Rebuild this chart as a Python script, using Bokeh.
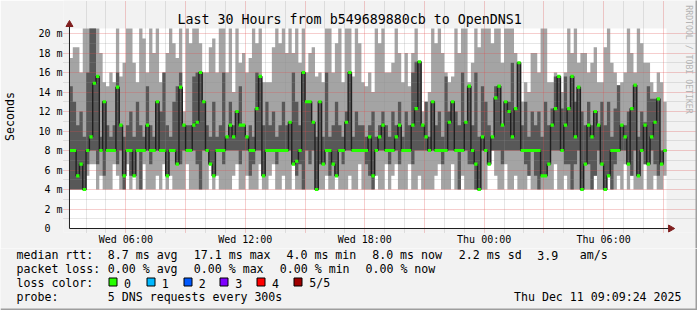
import numpy as np
from bokeh.plotting import figure
from bokeh.layouts import column
from bokeh.models import FixedTicker, Grid, Range1d
from bokeh.core.properties import value
from bokeh.embed import file_html
from bokeh.resources import INLINE

# ---------------- data ----------------
step_h = 10.0 / 60.0          # 10 minute columns
start_h = 3.0 + 10.0 / 60.0   # Wed 03:10 (hours since Wed 00:00)
span_h = 30.0
y_top = 20.51

median = [
    8, 8, 5.4, 6.6, 4.0, 8,
    9.4, 14.9, 15.6, 8, 13.0, 8,
    8, 8, 14.5, 10.6, 5.4, 8,
    8, 5.4, 8, 8, 8, 10.6,
    8, 8, 13.0, 8, 8, 5.4,
    8, 8, 6.6, 14.5, 10.6, 8,
    8, 10.6, 10.9, 16.0, 13.0, 8,
    6.6, 5.4, 8, 8, 8, 9.4,
    10.6, 9.4, 12.0, 10.6, 10.6, 9.4,
    8, 8, 12.3, 15.6, 5.4, 8,
    8, 8, 8, 8, 8, 8,
    10.9, 6.6, 6.9, 8, 16.0, 13.0,
    13.0, 10.9, 4.0, 13.0, 6.6, 8,
    8, 6.6, 5.4, 8, 8, 10.9,
    16.0, 8, 8, 8, 8, 8,
    9.4, 5.4, 8, 9.4, 10.6, 8,
    8, 8, 9.4, 10.6, 8, 8,
    8, 10.6, 12.3, 17.1, 10.6, 9.4,
    8, 13.0, 8, 8, 8, 8,
    10.9, 13.0, 8, 8, 8, 10.9,
    14.6, 8, 6.6, 4.0, 9.4, 8,
    6.6, 9.4, 13.4, 14.6, 10.6, 13.0,
    12.0, 9.4, 12.3, 17.0, 8, 8,
    8, 8, 8, 8, 5.4, 5.4,
    6.6, 10.6, 12.3, 15.6, 8, 10.6,
    12.3, 15.6, 9.4, 14.5, 4.0, 6.6,
    10.6, 9.4, 12.0, 10.6, 6.6, 4.0,
    5.4, 8, 8, 8, 10.6, 9.4,
    6.6, 12.3, 14.7, 5.4, 8, 10.6,
    6.6, 9.4, 10.9, 13.3, 6.6, 8.0,
]

ping_min = [
    4.0, 4.0, 4.0, 4.0, 4.0, 5.4,
    6.6, 6.6, 4.0, 5.4, 4.0, 4.0,
    4.0, 6.6, 5.4, 4.0, 4.0, 6.6,
    4.0, 5.4, 4.0, 4.0, 6.6, 4.0,
    4.0, 4.0, 5.4, 4.0, 6.6, 4.0,
    5.4, 4.0, 4.0, 4.0, 4.0, 6.6,
    4.0, 4.0, 4.0, 5.4, 4.0, 4.0,
    6.6, 4.0, 5.4, 4.0, 4.0, 4.0,
    4.0, 5.4, 6.6, 4.0, 4.0, 5.4,
    4.0, 4.0, 4.0, 6.6, 4.0, 4.0,
    5.4, 6.6, 4.0, 4.0, 5.4, 4.0,
    4.0, 6.6, 4.0, 4.0, 4.0, 4.0,
    4.0, 4.0, 6.6, 4.0, 4.0, 5.4,
    4.0, 4.0, 5.4, 4.0, 4.0, 4.0,
    5.4, 4.0, 4.0, 6.6, 4.0, 4.0,
    4.0, 4.0, 5.4, 4.0, 4.0, 6.6,
    4.0, 5.4, 6.6, 4.0, 4.0, 4.0,
    6.6, 4.0, 4.0, 5.4, 4.0, 4.0,
    4.0, 4.0, 5.4, 6.6, 4.0, 4.0,
    4.0, 6.6, 4.0, 4.0, 5.4, 4.0,
    4.0, 4.0, 4.0, 5.4, 4.0, 4.0,
    8.0, 8.0, 5.4, 4.0, 4.0, 6.6,
    4.0, 4.0, 5.4, 4.0, 4.0, 4.0,
    6.6, 4.0, 4.0, 5.4, 4.0, 4.0,
    4.0, 4.0, 6.6, 4.0, 4.0, 5.4,
    4.0, 4.0, 4.0, 4.0, 6.6, 4.0,
    4.0, 4.0, 5.4, 4.0, 4.0, 4.0,
    6.6, 4.0, 4.0, 5.4, 4.0, 6.6,
    4.0, 5.4, 4.0, 4.0, 4.0, 6.6,
    4.0, 4.0, 5.4, 4.0, 4.0, 5.4,
]

ping_low = [
    4.0, 4.0, 4.0, 4.0, 4.0, 6.6,
    8.0, 8.0, 6.6, 8.0, 5.4, 8.0,
    8.0, 8.0, 6.6, 8.0, 4.0, 8.0,
    5.4, 8.0, 8.0, 4.0, 8.0, 8.0,
    6.6, 8.0, 8.0, 8.0, 8.0, 5.4,
    8.0, 8.0, 6.6, 6.6, 8.0, 8.0,
    8.0, 8.0, 6.6, 4.0, 8.0, 8.0,
    8.0, 5.4, 8.0, 8.0, 6.6, 8.0,
    8.0, 8.0, 8.0, 6.6, 8.0, 8.0,
    5.4, 6.6, 8.0, 8.0, 8.0, 8.0,
    8.0, 8.0, 6.6, 8.0, 8.0, 8.0,
    8.0, 8.0, 5.4, 6.6, 4.0, 8.0,
    6.6, 8.0, 8.0, 6.6, 8.0, 8.0,
    5.4, 8.0, 8.0, 8.0, 6.6, 8.0,
    8.0, 8.0, 8.0, 8.0, 8.0, 6.6,
    5.4, 4.0, 8.0, 8.0, 8.0, 8.0,
    6.6, 8.0, 8.0, 6.6, 8.0, 8.0,
    8.0, 6.6, 8.0, 8.0, 8.0, 8.0,
    8.0, 8.0, 8.0, 8.0, 6.6, 8.0,
    8.0, 8.0, 8.0, 4.0, 8.0, 8.0,
    6.6, 6.6, 4.0, 8.0, 8.0, 8.0,
    8.0, 8.0, 8.0, 8.0, 6.6, 8.0,
    8.0, 8.0, 8.0, 8.0, 8.0, 6.6,
    5.4, 8.0, 5.4, 4.0, 8.0, 5.4,
    6.6, 8.0, 8.0, 8.0, 8.0, 6.6,
    6.6, 4.0, 6.6, 8.0, 8.0, 8.0,
    6.6, 4.0, 5.4, 8.0, 8.0, 6.6,
    8.0, 4.0, 6.6, 8.0, 8.0, 8.0,
    6.6, 5.4, 8.0, 6.6, 8.0, 6.6,
    8.0, 8.0, 6.6, 5.4, 6.6, 8.0,
]

ping_high = [
    14.6, 13.0, 10.6, 12.0, 9.4, 16.0,
    21.0, 21.0, 13.0, 9.4, 12.0, 10.6,
    9.4, 10.6, 16.0, 10.6, 9.4, 10.6,
    12.0, 9.4, 13.0, 10.6, 9.4, 14.6,
    10.6, 9.4, 9.4, 12.0, 16.0, 10.6,
    9.4, 13.0, 14.6, 16.0, 9.4, 10.6,
    10.6, 15.6, 16.0, 9.4, 12.0, 10.6,
    9.4, 13.0, 9.4, 10.6, 16.0, 9.4,
    13.0, 10.6, 12.0, 14.6, 10.6, 9.4,
    10.6, 9.4, 16.0, 15.6, 10.6, 13.0,
    10.6, 12.0, 9.4, 10.6, 13.0, 10.6,
    9.4, 16.0, 13.0, 10.6, 13.0, 10.6,
    12.0, 10.6, 9.4, 13.0, 9.4, 16.0,
    9.4, 10.6, 13.0, 10.6, 9.4, 12.0,
    13.0, 9.4, 12.0, 10.6, 10.6, 9.4,
    10.6, 12.0, 9.4, 10.6, 12.0, 10.6,
    9.4, 12.0, 10.6, 13.0, 9.4, 12.0,
    10.6, 16.0, 17.1, 12.0, 9.4, 13.0,
    9.4, 13.0, 10.6, 12.0, 9.4, 15.6,
    12.0, 9.4, 12.0, 10.6, 16.0, 10.6,
    14.6, 10.6, 16.0, 9.4, 14.6, 13.0,
    10.6, 9.4, 14.6, 14.6, 10.6, 13.0,
    13.0, 17.0, 10.6, 9.4, 10.6, 13.0,
    9.4, 12.0, 10.6, 12.0, 9.4, 13.0,
    10.6, 12.3, 15.6, 9.4, 12.3, 15.6,
    10.6, 14.6, 13.0, 9.4, 12.0, 10.6,
    13.0, 10.6, 12.0, 9.4, 13.0, 10.6,
    13.0, 9.4, 12.3, 14.7, 9.4, 10.6,
    12.0, 9.4, 10.6, 9.4, 12.0, 10.9,
    14.6, 13.3, 13.3, 10.6, 8.0, 8.0,
]

ping_max = [
    17.5, 18.6, 18.6, 16.0, 21.0, 21.0,
    21.0, 21.0, 21.0, 18.0, 15.0, 14.6,
    16.0, 15.0, 21.0, 15.6, 17.0, 21.0,
    21.0, 17.0, 15.0, 21.0, 19.5, 16.0,
    21.0, 18.0, 21.0, 15.0, 16.0, 18.0,
    21.0, 19.0, 17.5, 21.0, 12.0, 21.0,
    19.0, 21.0, 21.0, 19.0, 16.0, 16.0,
    18.6, 19.5, 16.0, 21.0, 21.0, 16.0,
    21.0, 14.0, 21.0, 17.0, 18.0, 16.0,
    17.5, 21.0, 19.0, 21.0, 15.0, 15.0,
    15.0, 18.6, 21.0, 19.0, 21.0, 18.0,
    21.0, 18.0, 21.0, 17.0, 21.0, 16.0,
    18.0, 18.6, 15.6, 16.0, 15.0, 21.0,
    21.0, 16.0, 19.0, 21.0, 15.0, 21.0,
    21.0, 15.6, 21.0, 19.0, 15.0, 14.6,
    16.0, 14.0, 21.0, 19.0, 21.0, 16.0,
    16.0, 17.0, 21.0, 18.0, 15.0, 18.0,
    14.6, 18.0, 21.0, 14.0, 12.0, 13.0,
    14.0, 21.0, 19.0, 21.0, 18.0, 16.0,
    15.0, 15.6, 21.0, 18.0, 21.0, 21.0,
    15.0, 17.0, 21.0, 18.6, 21.0, 21.0,
    21.0, 19.0, 21.0, 21.0, 17.0, 21.0,
    21.0, 21.0, 18.0, 16.0, 13.0, 15.0,
    14.0, 18.0, 18.0, 16.0, 21.0, 21.0,
    15.0, 15.0, 16.0, 14.0, 14.0, 16.0,
    21.0, 18.0, 21.0, 17.0, 18.0, 18.0,
    16.0, 17.0, 18.6, 15.0, 15.0, 18.6,
    21.0, 17.0, 16.0, 14.0, 15.0, 16.0,
    21.0, 18.0, 16.0, 21.0, 19.0, 17.0,
    17.0, 15.0, 14.0, 16.0, 15.0, 13.0,
]

x_ticks = [6, 12, 18, 24, 30]
x_tick_labels = ["Wed 06:00", "Wed 12:00", "Wed 18:00", "Thu 00:00", "Thu 06:00"]
y_ticks = [0, 2, 4, 6, 8, 10, 12, 14, 16, 18, 20]
y_tick_labels = ["0\u00a0\u00a0", "2 m", "4 m", "6 m", "8 m", "10 m", "12 m",
                 "14 m", "16 m", "18 m", "20 m"]

title_text = "Last 30 Hours from b549689880cb to OpenDNS1"
y_label = "Seconds"
watermark = "RRDTOOL / TOBI OETIKER"
rtt_items = ["median rtt:", "8.7 ms avg", "17.1 ms max", "4.0 ms min",
             "8.0 ms now", "2.2 ms sd", "3.9", "am/s"]
loss_items = ["packet loss:", "0.00 % avg", "0.00 % max", "0.00 % min", "0.00 % now"]
loss_title = "loss color:"
loss_names = ["0", "1", "2", "3", "4", "5/5"]
loss_colors = ["#26ff00", "#00b8ff", "#0059ff", "#7e00ff", "#ff0000", "#a00000"]
probe_items = ["probe:", "5 DNS requests every 300s"]
stamp_text = "Thu Dec 11 09:09:24 2025"

# ---------------- layout constants ----------------
FONT = "DejaVu Sans Mono"
W = 697
SPLIT = 248            # canvas row where the legend strip starts
PX_H = 20.0            # pixels per hour
PX_M = 9.75            # pixels per millisecond
X0_PX, Y0_PX = 66, 228 # canvas pixel of (start, 0)


def X(px):
    return start_h + (px - X0_PX) / PX_H


def Y(py):
    return (Y0_PX - py) / PX_M


# ---------------- derived arrays ----------------
n = len(median)
t = start_h + np.arange(n + 1) * step_h
med = np.array(median + [median[-1]], dtype=float)
lo1 = np.array(ping_min + [ping_min[-1]], dtype=float)
lo2 = np.array(ping_low + [ping_low[-1]], dtype=float)
hi2 = np.array(ping_high + [ping_high[-1]], dtype=float)
hi1 = np.array(ping_max + [ping_max[-1]], dtype=float)
lo2 = np.minimum(lo2, med)
lo1 = np.minimum(lo1, lo2)
hi2 = np.minimum(np.maximum(hi2, med), y_top)
hi1 = np.minimum(np.maximum(hi1, hi2), y_top)

# ---------------- main graph ----------------
p = figure(width=W, height=SPLIT,
           x_range=Range1d(X(60), X(W)), y_range=Range1d(Y(232), Y(0)),
           output_backend="svg", toolbar_location=None,
           min_border_left=60, min_border_right=0, min_border_top=0,
           min_border_bottom=SPLIT - 232,
           background_fill_color="#f2f2f2", border_fill_color="#f2f2f2",
           outline_line_color=None)
p.title.visible = False
p.grid.visible = False

# white canvas
p.quad(left=[start_h], right=[start_h + span_h], bottom=[0], top=[y_top],
       fill_color="white", line_color=None, level="image")

# smoke
p.varea_step(x=t, y1=lo1, y2=hi1, step_mode="after", fill_color="#a4a4a4")
p.varea_step(x=t, y1=lo2, y2=hi2, step_mode="after", fill_color="#585858")

# grids, drawn over the smoke and limited to the canvas
minor_y = [v for v in range(1, 21) if v % 2 == 1]
major_y = [v for v in range(2, 21, 2)]
minor_x = [h for h in range(4, 34) if h % 3 != 0]
major_x = [h for h in range(6, 34, 3)]
for dim, ticks, col, alpha in [(1, minor_y, "#8f8f8f", 0.45), (0, minor_x, "#8f8f8f", 0.45),
                               (1, major_y, "#de4f4f", 0.55), (0, major_x, "#de4f4f", 0.55)]:
    bounds = (start_h, start_h + span_h) if dim == 1 else (0, y_top)
    g = Grid(dimension=dim, ticker=FixedTicker(ticks=ticks), bounds=bounds,
             grid_line_color=col, grid_line_alpha=alpha, grid_line_dash="1 1",
             grid_line_width=1, level="guide")
    p.add_layout(g)

# median line and loss-coloured median band
r1 = p.step(x=t, y=med, mode="after", line_color="#202020", line_width=1.4)
r1.level = "annotation"
r2 = p.varea_step(x=t, y1=med - 0.16, y2=med + 0.16, step_mode="after", fill_color=loss_colors[0])
r2.level = "annotation"

# axis lines with arrows
ax_col = "#1f1f1f"
head_col = "#801f1f"
p.segment(x0=[start_h, start_h], y0=[0, 0], x1=[start_h, X(670)], y1=[Y(24), 0],
          line_color=ax_col, line_width=1, level="annotation")
p.scatter(x=[start_h], y=[Y(24)], marker="triangle", size=7, fill_color=head_col,
          line_color=head_col, level="annotation")
p.scatter(x=[X(670)], y=[0], marker="triangle", size=7, angle=-np.pi / 2,
          fill_color=head_col, line_color=head_col, level="annotation")

# title and watermark
p.text(x=[X(347.5)], y=[Y(19)], text=[title_text], text_font=value(FONT),
       text_font_size=value("13.3px"), text_align="center", text_baseline="middle",
       text_color="black", level="annotation")
p.text(x=[X(688)], y=[Y(59)], text=[watermark], text_font=value(FONT),
       text_font_size=value("8.2px"), text_align="center", text_baseline="middle",
       text_color="#b4b4b4", angle=-np.pi / 2, level="annotation")

# image frame (right side shade)
p.quad(left=[X(695)], right=[X(W)], bottom=[Y(SPLIT)], top=[Y(0)],
       fill_color="#9e9e9e", line_color=None, level="annotation")

# real axes
p.xaxis.ticker = FixedTicker(ticks=x_ticks)
p.xaxis.major_label_overrides = {k: v for k, v in zip(x_ticks, x_tick_labels)}
p.yaxis.ticker = FixedTicker(ticks=y_ticks)
p.yaxis.major_label_overrides = {k: v for k, v in zip(y_ticks, y_tick_labels)}
for ax in (p.xaxis, p.yaxis):
    ax.axis_line_color = None
    ax.major_tick_line_color = None
    ax.minor_tick_line_color = None
    ax.major_tick_in = 0
    ax.major_tick_out = 0
    ax.major_label_text_font = FONT
    ax.major_label_text_font_size = "10px"
    ax.major_label_text_color = "black"
p.xaxis.major_label_standoff = 1
p.yaxis.major_label_standoff = 1
p.yaxis.axis_label = y_label
p.yaxis.axis_label_text_font = FONT
p.yaxis.axis_label_text_font_size = "11.6px"
p.yaxis.axis_label_text_font_style = "normal"
p.yaxis.axis_label_text_color = "black"
p.yaxis.axis_label_standoff = 18

# ---------------- legend strip ----------------
H2 = 310 - SPLIT
q = figure(width=W, height=H2, x_range=Range1d(0, W), y_range=Range1d(310, SPLIT),
           x_axis_type=None, y_axis_type=None,
           output_backend="svg", toolbar_location=None,
           min_border_left=0, min_border_right=0, min_border_top=0, min_border_bottom=0,
           background_fill_color="#f2f2f2", border_fill_color="#f2f2f2",
           outline_line_color=None)
q.title.visible = False
# keep each plot's frame where it is set (no frame alignment between the two)
p.frame_align = False
q.frame_align = False


def row(xs, y, texts, align="left"):
    q.text(x=xs, y=[y] * len(xs), text=texts, text_font=value(FONT),
           text_font_size=value("11.6px"), text_align=align, text_baseline="middle",
           text_color="black")


row([16, 107.3, 193.3, 286, 371.7, 458.3, 536.7, 579.3], 254.5, rtt_items)
row([16, 107.3, 193.3, 279.3, 365], 268.5, loss_items)
sq_x = np.array([108, 145.7, 182.7, 219.3, 256, 293.3])
row([16], 282.5, [loss_title])
row(list(sq_x + 15.5), 282.5, loss_names)
q.quad(left=np.round(sq_x) + 0.5, right=np.round(sq_x) + 8.5, top=277.5, bottom=285.5,
       fill_color=loss_colors, line_color="black", line_width=1)
row([16, 107.3], 296.5, probe_items)
row([681], 296.5, [stamp_text], align="right")

# image frame shade (right and bottom)
q.quad(left=[695, 0], right=[W, W], top=[SPLIT, 308], bottom=[310, 310],
       fill_color="#9e9e9e", line_color=None)

layout = column(p, q, spacing=0)
open("out.html", "w").write(file_html(layout, INLINE))
